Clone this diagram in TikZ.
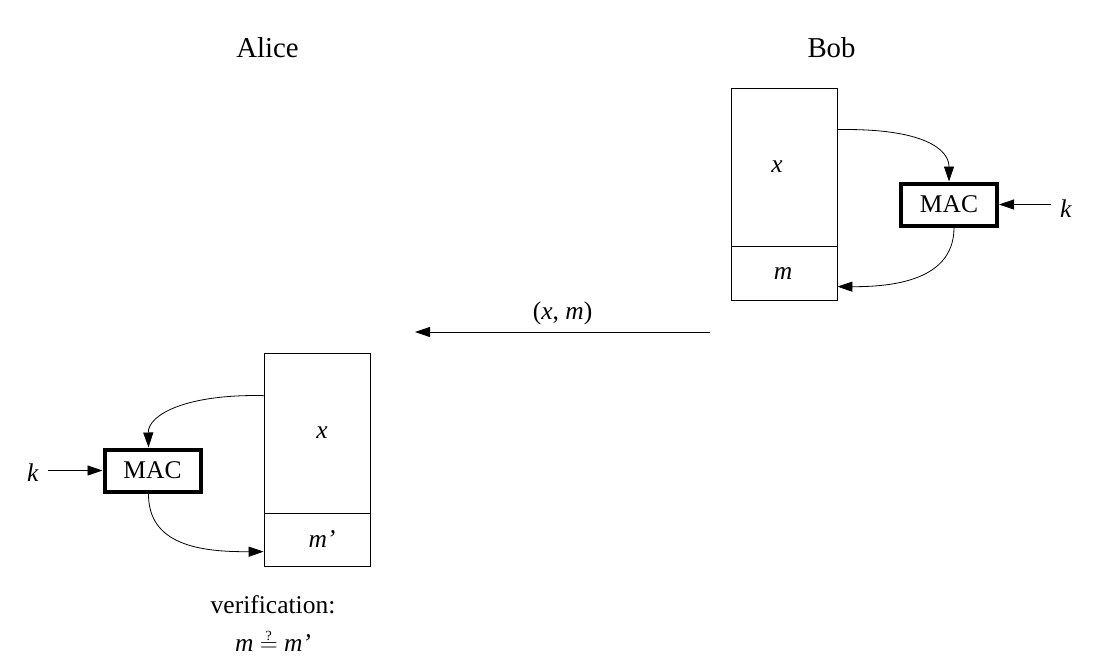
\documentclass[tikz,border=0pt]{standalone}
\usepackage{fontspec}
\setmainfont{Liberation Serif}
\usetikzlibrary{arrows.meta,calc}
\begin{document}
\begin{tikzpicture}[x=1pt,y=-1pt,
  every node/.style={font=\fontsize{25.5}{30}\selectfont},
  title/.style={inner sep=0pt,font=\fontsize{28.8}{34}\selectfont},
  cell/.style={draw,line width=0.8pt,minimum width=106pt,inner sep=0pt},
  macbox/.style={draw,line width=4pt,minimum width=96pt,minimum height=42pt,inner sep=0pt},
  conn/.style={line width=0.8pt,-{Triangle[length=15pt,width=10pt]}},
  lbl/.style={inner sep=0pt}]
\useasboundingbox (0,0) rectangle (1102,670);
% titles
\node[title] (alice) at (267.5,48) {Alice};
\node[title] (bob) at (831.5,48) {Bob};
% Bob
\node[cell,minimum height=158pt] (bx) at (784,167) {\textit{x}\kern14pt};
\node[cell,minimum height=54pt] (bm) at (784,273) {\textit{m}\kern2pt};
\node[macbox] (bmac) at (949,204.5) {MAC};
\node[lbl] (kb) at (1066,209) {\textit{k}};
\draw[conn] ([xshift=-9pt]kb.west |- bmac.east) -- (bmac.east);
\draw[conn] ($(bx.north east)+(0,42)$) .. controls (925,128) and (949,150) .. (bmac.north);
\draw[conn] ([xshift=5pt]bmac.south) .. controls (954,275) and (905,287) .. ($(bm.north east)+(0,41)$);
% message
\coordinate (mstart) at (710,332);
\coordinate (mend) at (415,332);
\draw[conn] (mstart) -- node[lbl,above=7pt] {(\textit{x}, \textit{m})} (mend);
% Alice
\node[cell,minimum height=160pt] (ax) at (317,433) {\kern10pt\textit{x}};
\node[cell,minimum height=53pt] (am) at (317,539.5) {\kern10pt\textit{m’}};
\node[macbox] (amac) at (152.5,470.5) {MAC};
\node[lbl] (ka) at (33,473) {\textit{k}};
\draw[conn] ([xshift=9pt]ka.east |- amac.west) -- (amac.west);
\draw[conn] ($(ax.north west)+(0,43)$) .. controls (185,394) and (148,415) .. ([xshift=-4pt]amac.north);
\draw[conn] ([xshift=-4pt]amac.south) .. controls (148,545) and (200,552) .. ($(am.north west)+(0,39)$);
% verification
\node[lbl] (ver) at (273,605) {verification:};
\node[lbl] (eq) at (273,641) {\textit{m} $\stackrel{\mbox{\fontsize{14}{16}\selectfont ?}}{=}$ \textit{m’}};
\end{tikzpicture}
\end{document}
